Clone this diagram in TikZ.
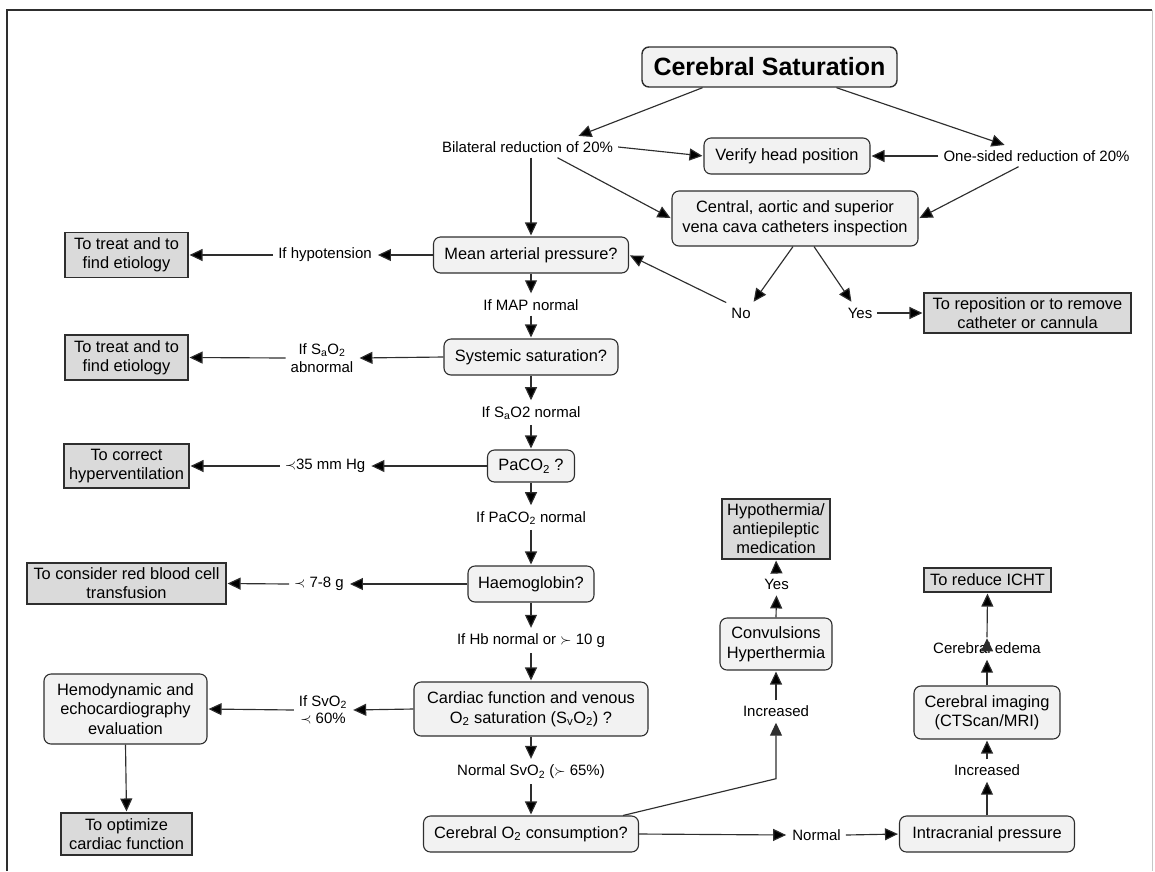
\documentclass[tikz,border=0pt]{standalone}
\usepackage{fontspec}
\setmainfont{Liberation Sans}
\usetikzlibrary{arrows.meta}

\definecolor{boxfill}{HTML}{F2F2F2}
\definecolor{actfill}{HTML}{DADADA}
\definecolor{edgecol}{HTML}{2E2E2E}

\tikzset{
	qbox/.style={draw=edgecol, fill=boxfill, rounded corners=7pt, line width=1.1pt, align=center, inner sep=2pt, font=\fontsize{16.4}{19.5}\selectfont},
	actbox/.style={draw=edgecol, fill=actfill, line width=1.1pt, align=center, inner sep=2pt, font=\fontsize{16.4}{19}\selectfont},
	titlebox/.style={qbox, line width=1.4pt, font=\fontsize{25}{30}\selectfont\bfseries},
	lbl/.style={align=center, inner sep=5pt, font=\fontsize{15}{17.5}\selectfont},
	link/.style={->, draw=edgecol, line width=1.15pt, shorten >=1pt}
}

\begin{document}
\begin{tikzpicture}[x=1pt, y=-1pt, >={Triangle[length=13pt,width=12pt]}]
		\useasboundingbox (0,0) rectangle (1155,871);
		\draw[edgecol, line width=1.5pt] (7,871) -- (7,10) -- (1152,10);
		\draw[gray!45, line width=1pt] (1152,10) -- (1152,871);

		% top part
		\draw (769.5,67) node [titlebox, minimum width=255pt, minimum height=40pt] (title) {Cerebral Saturation};
		\draw (527.5,147) node [lbl] (bil) {Bilateral reduction of 20\%};
		\draw (1036.5,156) node [lbl] (one) {One-sided reduction of 20\%};
		\draw (787,156) node [qbox, minimum width=166pt, minimum height=36pt] (verify) {Verify head position};
		\draw (795,218.5) node [qbox, minimum width=246pt, minimum height=55pt] (cath) {Central, aortic and superior\\vena cava catheters inspection};
		\draw (741,313) node [lbl] (no) {No};
		\draw (860,313) node [lbl] (yes) {Yes};
		\draw (1027.5,313) node [actbox, minimum width=207pt, minimum height=40pt] (repos) {To reposition or to remove\\catheter or cannula};

		% middle column
		\draw (531,255) node [qbox, minimum width=195pt, minimum height=36pt] (map) {Mean arterial pressure?};
		\draw (531,305) node [lbl] (mapok) {If MAP normal};
		\draw (531,357) node [qbox, minimum width=174pt, minimum height=36pt] (sys) {Systemic saturation?};
		\draw (531,413) node [lbl] (saok) {If S\textsubscript{a}O2 normal};
		\draw (531,466) node [qbox, minimum width=87pt, minimum height=32pt] (paco) {PaCO\textsubscript{2} ?};
		\draw (531,518) node [lbl] (pacok) {If PaCO\textsubscript{2} normal};
		\draw (531,584) node [qbox, minimum width=126pt, minimum height=36pt] (hb) {Haemoglobin?};
		\draw (531,641) node [lbl] (hbok) {If Hb normal or $\succ$ 10 g};
		\draw (531,709) node [qbox, minimum width=234pt, minimum height=54pt] (card) {Cardiac function and venous\\O\textsubscript{2} saturation (S\textsubscript{v}O\textsubscript{2}) ?};
		\draw (531,772) node [lbl] (svok) {Normal SvO\textsubscript{2} ($\succ$ 65\%)};
		\draw (531,834) node [qbox, minimum width=215pt, minimum height=36pt] (cons) {Cerebral O\textsubscript{2} consumption?};

		% left column
		\draw (325,255) node [lbl] (hypo) {If hypotension};
		\draw (126.5,255) node [actbox, minimum width=123pt, minimum height=45pt] (treata) {To treat and to\\find etiology};
		\draw (322,358) node [lbl] (saab) {If S\textsubscript{a}O\textsubscript{2}\\abnormal};
		\draw (126.5,357.5) node [actbox, minimum width=123pt, minimum height=45pt] (treatb) {To treat and to\\find etiology};
		\draw (325,466) node [lbl] (lowco) {$\prec$35 mm Hg};
		\draw (126.5,466) node [actbox, minimum width=125pt, minimum height=44pt] (hyper) {To correct\\hyperventilation};
		\draw (319,584) node [lbl] (lowhb) {$\prec$ 7-8 g};
		\draw (126.5,583.5) node [actbox, minimum width=199pt, minimum height=41pt] (rbc) {To consider red blood cell\\transfusion};
		\draw (323,710) node [lbl] (lowsv) {If SvO\textsubscript{2}\\$\prec$ 60\%};
		\draw (125.5,709) node [qbox, minimum width=163pt, minimum height=70pt] (echo) {Hemodynamic and\\echocardiography\\evaluation};
		\draw (126.5,834) node [actbox, minimum width=131pt, minimum height=42pt] (optim) {To optimize\\cardiac function};

		% right part
		\draw (776,711) node [lbl] (incl) {Increased};
		\draw (776,644) node [qbox, minimum width=112pt, minimum height=52pt] (conv) {Convulsions\\Hyperthermia};
		\draw (776.5,584) node [lbl] (yesb) {Yes};
		\draw (776,529) node [actbox, minimum width=108pt, minimum height=60pt] (hypoth) {Hypothermia/\\antiepileptic\\medication};
		\draw (816.5,835) node [lbl] (normal) {Normal};
		\draw (987,834) node [qbox, minimum width=175pt, minimum height=36pt] (icp) {Intracranial pressure};
		\draw (987,770) node [lbl] (incr) {Increased};
		\draw (987,712.5) node [qbox, minimum width=146pt, minimum height=53pt] (img) {Cerebral imaging\\(CTScan/MRI)};
		\draw (987,648) node [lbl] (edema) {Cerebral edema};
		\draw (987.5,580) node [actbox, minimum width=127pt, minimum height=24pt] (icht) {To reduce ICHT};

		\draw[link]
			([xshift=-67pt]title.south) edge ([xshift=50pt]bil.north)
			([xshift=67pt]title.south) edge ([xshift=-31pt]one.north)
			(bil.east) edge (verify.west)
			(one.west) edge (verify.east)
			([xshift=30pt]bil.south) edge (cath.west)
			([xshift=-18pt]one.south) edge (cath.east)
			(bil.south -| map.north) edge (map.north)
			([xshift=-2pt]cath.south) edge ([xshift=12pt]no.north)
			([xshift=19pt]cath.south) edge ([xshift=-8pt]yes.north)
			(no.north west) edge (map.east)
			(yes.east) edge (repos.west)
			(map.west) edge (hypo.east)
			(hypo.west) edge (treata.east)
			(map.south) edge (mapok.north)
			(mapok.south) edge (sys.north)
			(sys.west) edge (saab.east)
			(saab.west) edge (treatb.east)
			(sys.south) edge (saok.north)
			(saok.south) edge (paco.north)
			(paco.west) edge (lowco.east)
			(lowco.west) edge (hyper.east)
			(paco.south) edge (pacok.north)
			(pacok.south) edge (hb.north)
			(hb.west) edge (lowhb.east)
			(lowhb.west) edge (rbc.east)
			(hb.south) edge (hbok.north)
			(hbok.south) edge (card.north)
			(card.west) edge (lowsv.east)
			(lowsv.west) edge (echo.east)
			(echo.south) edge (optim.north)
			(card.south) edge (svok.north)
			(svok.south) edge (cons.north)
			(incl.north) edge (conv.south)
			(conv.north) edge (yesb.south)
			(yesb.north) edge (hypoth.south)
			(cons.east) edge (normal.west)
			(normal.east) edge (icp.west)
			(icp.north) edge (incr.south)
			(incr.north) edge (img.south)
			(img.north) edge (edema.south)
			(edema.north) edge (icht.south)
		;
		\draw[link] ([xshift=-16pt]cons.north east) -- ([yshift=-57pt]incl.south) -- (incl.south);
	\end{tikzpicture}
\end{document}
